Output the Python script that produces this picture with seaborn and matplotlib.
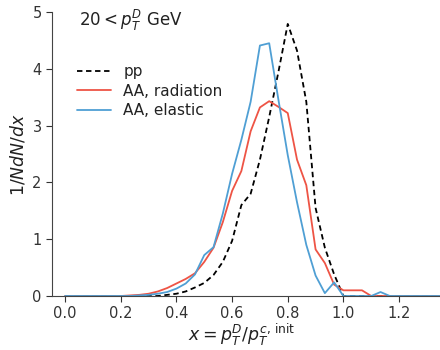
import numpy as np
import pandas as pd
import matplotlib
matplotlib.use("Agg")
import matplotlib.pyplot as plt
import seaborn as sns

# bin centres x = k/30, k = 0..45
x_vals = [k / 30 for k in range(46)]

pp = [0, 0, 0, 0, 0, 0, 0, 0, 0, 0,
      0, 0.02, 0.04, 0.08, 0.15, 0.23, 0.37, 0.6, 0.97, 1.6,
      1.8, 2.4, 3.15, 3.95, 4.79, 4.32, 3.42, 1.55, 0.85, 0.38,
      0.0, 0, 0, 0, 0, 0, 0, 0, 0, 0,
      0, 0, 0, 0, 0, 0]

aa_rad = [0, 0, 0, 0, 0, 0, 0.0, 0.01, 0.02, 0.04,
          0.08, 0.14, 0.22, 0.3, 0.4, 0.6, 0.85, 1.3, 1.85, 2.2,
          2.9, 3.32, 3.43, 3.33, 3.22, 2.4, 1.95, 0.82, 0.58, 0.2,
          0.1, 0.1, 0.1, 0.0, 0, 0, 0, 0, 0, 0,
          0, 0, 0, 0, 0, 0]

aa_el = [0, 0, 0, 0, 0, 0, 0, 0, 0.01, 0.02,
         0.04, 0.07, 0.13, 0.22, 0.38, 0.72, 0.86, 1.45, 2.15, 2.75,
         3.42, 4.41, 4.45, 3.45, 2.48, 1.65, 0.9, 0.36, 0.05, 0.24,
         0.0, 0, 0, 0, 0.07, 0, 0, 0, 0, 0,
         0, 0, 0, 0, 0, 0]

labels = ["pp", "AA, radiation", "AA, elastic"]
colors = ["black", "#ee5445", "#4f9fd4"]

df = pd.DataFrame({
    "x": x_vals * 3,
    "y": pp + aa_rad + aa_el,
    "series": [labels[0]] * len(x_vals) + [labels[1]] * len(x_vals) + [labels[2]] * len(x_vals),
})

sns.set_style("ticks")
plt.rcParams["font.family"] = ["DejaVu Sans"]

fig = plt.figure(figsize=(4.4, 3.5), dpi=100)
ax = fig.add_axes([52 / 440, 1 - 296 / 350, 388 / 440, 284 / 350])

sns.lineplot(data=df, x="x", y="y", hue="series", style="series",
             palette=dict(zip(labels, colors)),
             dashes={labels[0]: (3, 2), labels[1]: "", labels[2]: ""},
             linewidth=1.3, ax=ax, legend=True)

ax.set_xlim(-0.047, 1.347)
ax.set_ylim(0, 5)
ax.set_xticks([0.0, 0.2, 0.4, 0.6, 0.8, 1.0, 1.2])
ax.set_yticks([0, 1, 2, 3, 4, 5])
ax.set_xticklabels(["0.0", "0.2", "0.4", "0.6", "0.8", "1.0", "1.2"])
ax.tick_params(labelsize=10.5, colors="#333333", length=4)
for s in ["left", "bottom"]:
    ax.spines[s].set_color("#444444")
sns.despine(ax=ax)

ax.set_xlabel(r"$x = p_T^D/p_T^{c,\,\mathrm{init}}$", fontsize=12.5, color="#222222")
ax.set_ylabel(r"$1/NdN/dx$", fontsize=12.5, color="#222222")
ax.yaxis.set_label_coords(-0.062, 0.5)
ax.xaxis.set_label_coords(0.49, -0.088)

ax.text(0.07, 0.97, r"$20 < p_T^D$ GeV", transform=ax.transAxes,
        fontsize=12, va="center", ha="left", color="#222222")

leg = ax.legend(loc="upper left", bbox_to_anchor=(0.03, 0.865), frameon=False,
                fontsize=11, handlelength=2.2, labelspacing=0.3)
for t in leg.get_texts():
    t.set_color("#222222")

fig.savefig("out.png", dpi=100)
